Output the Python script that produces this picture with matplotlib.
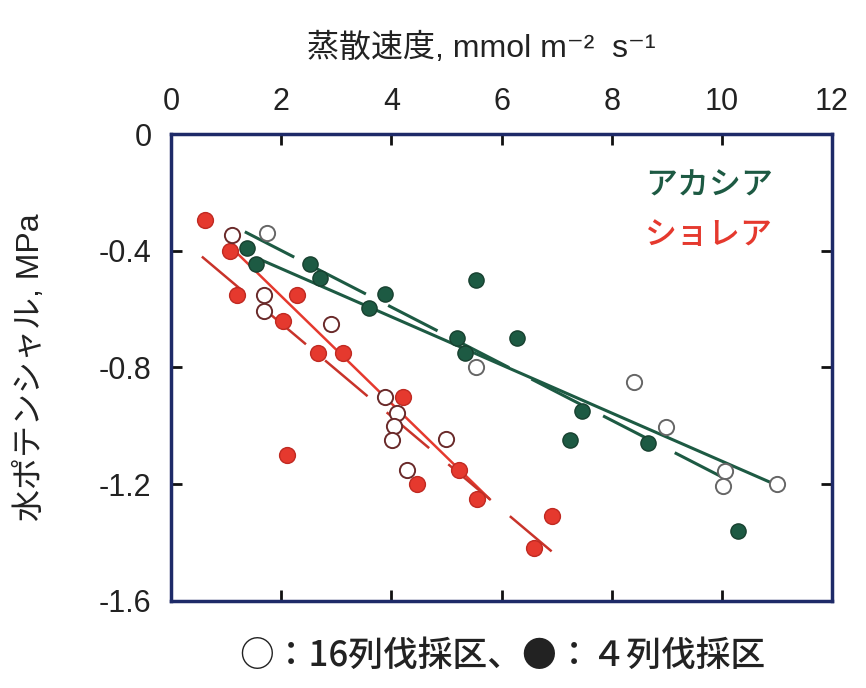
#!/usr/bin/env python3
# Leaf water potential vs transpiration rate, Acacia and Shorea

import matplotlib
matplotlib.use('Agg')
from matplotlib import pyplot as plt

import numpy as np

plt.rcParams['font.family'] = ['Liberation Sans', 'Noto Sans CJK JP', 'DejaVu Sans']
plt.rcParams['lines.scale_dashes'] = False

GREEN = '#1d5a43'
RED = '#e5392e'
FRAME = '#1e2a68'

# Acacia, 4-row cut (filled)
acacia_4_x = [1.38, 1.54, 2.52, 2.70, 3.88, 3.59, 5.54, 5.19, 5.34, 6.28, 7.46, 7.24, 8.66, 10.29]
acacia_4_y = [-0.39, -0.445, -0.445, -0.495, -0.547, -0.595, -0.50, -0.70, -0.75, -0.70, -0.95, -1.05, -1.06, -1.36]

# Acacia, 16-row cut (open)
acacia_16_x = [1.74, 5.53, 8.40, 8.98, 10.05, 10.02, 11.0]
acacia_16_y = [-0.34, -0.80, -0.85, -1.005, -1.155, -1.205, -1.20]

# Shorea, 4-row cut (filled)
shorea_4_x = [0.62, 1.07, 1.20, 2.29, 2.03, 2.67, 3.12, 2.10, 4.21, 4.46, 5.23, 5.55, 6.59, 6.92]
shorea_4_y = [-0.295, -0.40, -0.55, -0.55, -0.64, -0.75, -0.75, -1.10, -0.90, -1.20, -1.15, -1.25, -1.42, -1.31]

# Shorea, 16-row cut (open)
shorea_16_x = [1.10, 1.69, 1.69, 2.90, 3.88, 4.10, 4.05, 4.01, 4.28, 5.00]
shorea_16_y = [-0.345, -0.55, -0.605, -0.65, -0.90, -0.955, -1.00, -1.05, -1.15, -1.045]

# regression lines (end points)
acacia_16_fit_x = [1.62, 10.96]
acacia_16_fit_y = [-0.43, -1.20]
acacia_4_fit_x = [1.34, 10.29]
acacia_4_fit_y = [-0.335, -1.203]
shorea_16_fit_x = [1.10, 5.77]
shorea_16_fit_y = [-0.39, -1.248]
shorea_4_fit_x = [0.56, 6.91]
shorea_4_fit_y = [-0.42, -1.43]

x_ticks = [0, 2, 4, 6, 8, 10, 12]
y_ticks = [0, -0.4, -0.8, -1.2, -1.6]
y_tick_labels = ['0', '-0.4', '-0.8', '-1.2', '-1.6']


def main():
    fig = plt.figure(figsize=(8.66, 6.88), dpi=100)
    ax = fig.add_axes([0.1975, 0.1265, 0.7632, 0.6787])

    dash = (0, (40, 18))
    ax.plot(acacia_16_fit_x, acacia_16_fit_y, color=GREEN, lw=2.2, zorder=2)
    ax.plot(acacia_4_fit_x, acacia_4_fit_y, color=GREEN, lw=2.2, ls=dash, zorder=2)
    ax.plot(shorea_16_fit_x, shorea_16_fit_y, color=RED, lw=1.8, zorder=2)
    ax.plot(shorea_4_fit_x, shorea_4_fit_y, color='#c8332a', lw=1.8, ls=dash, zorder=2)

    ax.scatter(acacia_4_x, acacia_4_y, s=120, color=GREEN, edgecolor='#17402f',
               linewidth=1.0, zorder=3)
    ax.scatter(acacia_16_x, acacia_16_y, s=120, color='white', edgecolor='#666666',
               linewidth=1.4, zorder=3)
    ax.scatter(shorea_4_x, shorea_4_y, s=130, color=RED, edgecolor='#c02a22',
               linewidth=1.0, zorder=3)
    ax.scatter(shorea_16_x, shorea_16_y, s=120, color='white', edgecolor='#6a2a2a',
               linewidth=1.4, zorder=3)

    ax.text(8.6, -0.18, 'アカシア', color=GREEN, fontsize=23, va='center', ha='left',
            fontweight='medium')
    ax.text(8.6, -0.35, 'ショレア', color=RED, fontsize=23, va='center', ha='left',
            fontweight='medium')

    ax.set_xlim(0, 12)
    ax.set_ylim(-1.6, 0)
    ax.set_xticks(x_ticks)
    ax.set_yticks(y_ticks)
    ax.set_yticklabels(y_tick_labels)
    ax.xaxis.tick_top()
    ax.xaxis.set_label_position('top')
    ax.tick_params(axis='both', direction='in', length=8, width=2, color='#111111',
                   top=True, bottom=True, left=True, right=True,
                   labeltop=True, labelbottom=False, labelleft=True, labelright=False,
                   labelsize=22, labelcolor='#222222')
    ax.tick_params(axis='x', pad=12)
    ax.tick_params(axis='y', pad=14)
    for side in ax.spines.values():
        side.set_color(FRAME)
        side.set_linewidth(2.5)

    ax.set_xlabel('蒸散速度, mmol m⁻²  s⁻¹', fontsize=23, color='#222222', labelpad=12)
    ax.xaxis.set_label_coords(0.47, 1.165)
    fig.text(0.035, 0.467, '水ポテンシャル, MPa', rotation=90, fontsize=23,
             color='#222222', ha='center', va='center')

    fig.text(0.58, 0.046, '○：16列伐採区、●：４列伐採区', fontsize=25,
             family=['Noto Sans CJK JP', 'DejaVu Sans'], fontweight='medium',
             color='#222222', ha='center', va='center')

    fig.savefig('out.png', dpi=100)


if __name__ == '__main__':
    main()
